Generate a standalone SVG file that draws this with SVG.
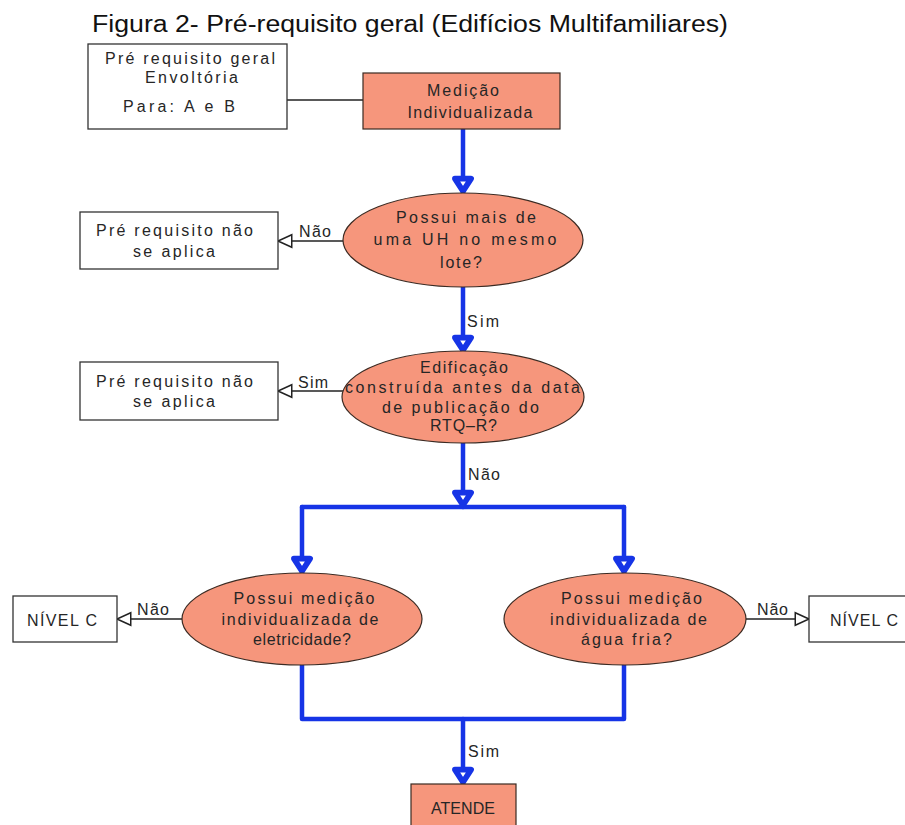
<svg xmlns="http://www.w3.org/2000/svg" width="905" height="825" viewBox="0 0 905 825">
<defs>
<style>
.t{font-family:"Liberation Sans",Arial,sans-serif;font-size:16px;fill:#262626;}
.m{text-anchor:middle;}
.title{font-family:"Liberation Sans",Arial,sans-serif;font-size:23px;fill:#111;}
.box{fill:#ffffff;stroke:#333;stroke-width:1.3;}
.sal{fill:#F6967C;stroke:#3b2a22;stroke-width:1.2;}
.blue{fill:none;stroke:#1634E6;stroke-width:4.5;stroke-linejoin:round;stroke-linecap:round;}
.blk{fill:none;stroke:#222;stroke-width:1.3;}
</style>
<marker id="ba" markerUnits="userSpaceOnUse" markerWidth="30" markerHeight="30" viewBox="-20 -12 24 24" refX="1.5" refY="0" orient="auto">
<path d="M0,0 L-10,-6.5 L-10,6.5 Z" fill="#ffffff" stroke="#1634E6" stroke-width="4.5" stroke-linejoin="round"/>
</marker>
<marker id="ha" markerUnits="userSpaceOnUse" markerWidth="20" markerHeight="20" viewBox="-14 -8 16 16" refX="0" refY="0" orient="auto">
<path d="M0,0 L-11,-5 L-11,5 Z" fill="#ffffff" stroke="#222" stroke-width="1.2"/>
</marker>
</defs>
<rect width="905" height="825" fill="#ffffff"/>
<text class="title" x="92" y="32" textLength="636" lengthAdjust="spacingAndGlyphs">Figura 2- Pré-requisito geral (Edifícios Multifamiliares)</text>

<g id="connectors">
<line class="blk" x1="287" y1="100" x2="363" y2="100"/>
<line class="blue" x1="463" y1="129" x2="463" y2="193" marker-end="url(#ba)"/>
<line class="blue" x1="463" y1="287" x2="463" y2="352" marker-end="url(#ba)"/>
<line class="blue" x1="463" y1="443" x2="463" y2="507" marker-end="url(#ba)"/>
<path class="blue" d="M302,507 H624"/>
<line class="blue" x1="302" y1="507" x2="302" y2="573" marker-end="url(#ba)"/>
<line class="blue" x1="624" y1="507" x2="624" y2="573" marker-end="url(#ba)"/>
<path class="blue" d="M302,665 V719 H624 V665"/>
<line class="blue" x1="463" y1="719" x2="463" y2="784" marker-end="url(#ba)"/>
<line class="blk" x1="343" y1="241" x2="278" y2="241" marker-end="url(#ha)"/>
<line class="blk" x1="343" y1="391" x2="278" y2="391" marker-end="url(#ha)"/>
<line class="blk" x1="182" y1="619" x2="117" y2="619" marker-end="url(#ha)"/>
<line class="blk" x1="746" y1="619" x2="809" y2="619" marker-end="url(#ha)"/>
<text class="t" x="299" y="237" textLength="32">Não</text>
<text class="t" x="298" y="388" textLength="30">Sim</text>
<text class="t" x="467" y="327" textLength="32">Sim</text>
<text class="t" x="468" y="480" textLength="32">Não</text>
<text class="t" x="137" y="615" textLength="32">Não</text>
<text class="t" x="757" y="615" textLength="31">Não</text>
<text class="t" x="468" y="757" textLength="31">Sim</text>
</g>

<g id="envoltoria">
<rect class="box" x="88" y="44" width="199" height="85"/>
<text class="t m" x="190" y="64" textLength="170">Pré requisito geral</text>
<text class="t m" x="191.5" y="83" textLength="93">Envoltória</text>
<text class="t m" x="179" y="112" textLength="112">Para: A e B</text>
</g>

<g id="medicao">
<rect class="sal" x="363" y="73" width="197" height="56"/>
<text class="t m" x="463" y="96" textLength="72">Medição</text>
<text class="t m" x="470" y="118" textLength="125">Individualizada</text>
</g>

<g id="q1">
<ellipse class="sal" cx="463" cy="240" rx="120" ry="47"/>
<text class="t m" x="466" y="223" textLength="140">Possui mais de</text>
<text class="t m" x="465" y="245" textLength="183">uma UH no mesmo</text>
<text class="t m" x="461" y="268" textLength="42">lote?</text>
</g>

<g id="nao-aplica-1">
<rect class="box" x="80" y="212" width="198" height="57"/>
<text class="t m" x="174.5" y="236" textLength="157">Pré requisito não</text>
<text class="t m" x="174" y="257" textLength="82">se aplica</text>
</g>

<g id="q2">
<ellipse class="sal" cx="463" cy="397" rx="121" ry="46"/>
<text class="t m" x="464" y="373" textLength="88">Edificação</text>
<text class="t m" x="462.5" y="393" textLength="235">construída antes da data</text>
<text class="t m" x="460.5" y="413" textLength="157">de publicação do</text>
<text class="t m" x="463.5" y="431" textLength="67">RTQ–R?</text>
</g>

<g id="nao-aplica-2">
<rect class="box" x="80" y="362" width="198" height="58"/>
<text class="t m" x="174.5" y="387" textLength="157">Pré requisito não</text>
<text class="t m" x="174" y="407" textLength="82">se aplica</text>
</g>

<g id="q3">
<ellipse class="sal" cx="302" cy="619" rx="120" ry="46"/>
<text class="t m" x="304" y="604" textLength="141">Possui medição</text>
<text class="t m" x="300" y="625" textLength="157">individualizada de</text>
<text class="t m" x="302" y="645" textLength="98">eletricidade?</text>
</g>

<g id="q4">
<ellipse class="sal" cx="625" cy="619" rx="121" ry="46"/>
<text class="t m" x="631.5" y="604" textLength="141">Possui medição</text>
<text class="t m" x="628.5" y="625" textLength="157">individualizada de</text>
<text class="t m" x="626.5" y="645" textLength="91">água fria?</text>
</g>

<g id="nivel-c-left">
<rect class="box" x="13" y="596" width="104" height="46"/>
<text class="t" x="27" y="626" textLength="70">NÍVEL C</text>
</g>

<g id="nivel-c-right">
<rect class="box" x="809" y="596" width="110" height="46"/>
<text class="t" x="830" y="626" textLength="68">NÍVEL C</text>
</g>

<g id="atende">
<rect class="sal" x="411" y="784" width="105" height="60"/>
<text class="t m" x="463" y="814" textLength="64">ATENDE</text>
</g>
</svg>
